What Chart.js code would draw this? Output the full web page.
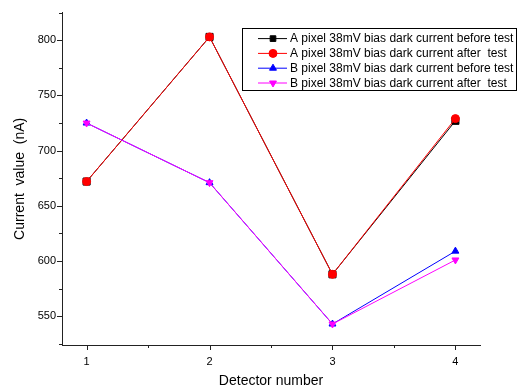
<!DOCTYPE html>
<html>
<head>
<meta charset="utf-8">
<script src="https://cdn.jsdelivr.net/npm/chart.js@4/dist/chart.umd.min.js"></script>
<style>
  body { margin: 0; background: #fff; }
  canvas { display: block; }
</style>
</head>
<body>
<canvas id="chart" width="520" height="392"></canvas>
<script>
const detectors = [1, 2, 3, 4];
const aBefore = [672, 803, 588, 727];
const aAfter = [672, 803, 588, 729];
const bBefore = [725, 671, 543, 609];
const bAfter = [725, 671, 543, 601];
const seriesNames = [
    'A pixel 38mV bias dark current before test',
    'A pixel 38mV bias dark current after  test',
    'B pixel 38mV bias dark current before test',
    'B pixel 38mV bias dark current after  test'
];
const xMajor = [1, 2, 3, 4];
const xMinor = [1.5, 2.5, 3.5];
const yMajor = [550, 600, 650, 700, 750, 800];
const yMinor = [525, 575, 625, 675, 725, 775, 825];

const FONT = 'Liberation Sans, Arial, sans-serif';

function pts(vals) {
    return detectors.map((d, i) => ({ x: d, y: vals[i] }));
}

// ticks de eixo (maiores e menores), estilo Origin
const axisTicks = {
    id: 'axisTicks',
    afterDraw(chart) {
        const ctx = chart.ctx;
        const xs = chart.scales.x, ys = chart.scales.y;
        const area = chart.chartArea;
        ctx.save();
        ctx.strokeStyle = '#222';
        ctx.lineWidth = 1;
        ctx.beginPath();
        xMajor.concat(xMinor).forEach(v => {
            const len = xMajor.includes(v) ? 5 : 3;
            const px = Math.round(xs.getPixelForValue(v)) + 0.5;
            ctx.moveTo(px, area.bottom);
            ctx.lineTo(px, area.bottom + len);
        });
        yMajor.concat(yMinor).forEach(v => {
            const len = yMajor.includes(v) ? 5 : 3;
            const py = Math.round(ys.getPixelForValue(v)) + 0.5;
            ctx.moveTo(area.left, py);
            ctx.lineTo(area.left - len, py);
        });
        ctx.stroke();
        ctx.restore();
    }
};

// legenda com caixa, linha + marcador
const boxLegend = {
    id: 'boxLegend',
    afterDraw(chart) {
        const ctx = chart.ctx;
        const area = chart.chartArea;
        const left = area.right - 238, top = area.top + 15;
        const w = 274, h = 62;
        ctx.save();
        ctx.fillStyle = '#fff';
        ctx.fillRect(left, top, w, h);
        ctx.strokeStyle = '#000';
        ctx.lineWidth = 1;
        ctx.strokeRect(Math.round(left) + 0.5, Math.round(top) + 0.5, w, h);
        ctx.font = '12px ' + FONT;
        ctx.textBaseline = 'middle';
        chart.data.datasets.forEach((ds, i) => {
            const y = top + 11 + i * 14.8;
            ctx.strokeStyle = ds.borderColor;
            ctx.beginPath();
            ctx.moveTo(left + 16, y);
            ctx.lineTo(left + 45, y);
            ctx.stroke();
            ctx.fillStyle = ds.pointBackgroundColor;
            ctx.strokeStyle = ds.pointBorderColor;
            Chart.helpers.drawPoint(ctx, {
                pointStyle: ds.pointStyle,
                rotation: ds.pointRotation || 0,
                radius: 4,
                borderWidth: 1
            }, left + 31, y);
            ctx.fillStyle = '#000';
            ctx.fillText(ds.label, left + 48, y + 0.5);
        });
        ctx.restore();
    }
};

const colors = ['#000000', '#ff0000', '#0000ff', '#ff00ff'];
const styles = ['rect', 'circle', 'triangle', 'triangle'];
const rotations = [0, 0, 0, 180];
const values = [aBefore, aAfter, bBefore, bAfter];
const orders = [4, 3, 2, 1];

new Chart(document.getElementById('chart').getContext('2d'), {
    type: 'line',
    data: {
        datasets: values.map((v, i) => ({
            label: seriesNames[i],
            data: pts(v),
            borderColor: colors[i],
            backgroundColor: colors[i],
            pointBackgroundColor: colors[i],
            pointBorderColor: colors[i],
            pointStyle: styles[i],
            pointRotation: rotations[i],
            pointRadius: i === 0 ? 5 : 4,
            borderWidth: 1,
            tension: 0,
            order: orders[i]
        }))
    },
    options: {
        responsive: false,
        animation: false,
        layout: { padding: { top: 8, right: 40, left: 0, bottom: 0 } },
        plugins: {
            legend: { display: false },
            tooltip: { enabled: false }
        },
        scales: {
            x: {
                type: 'linear',
                min: 0.8,
                max: 4.2,
                afterFit(s) { s.height = 47; },
                afterBuildTicks(s) { s.ticks = xMajor.map(v => ({ value: v })); },
                grid: { display: false, drawTicks: false, tickLength: 0 },
                border: { display: true, color: '#222', width: 1 },
                ticks: {
                    padding: 10,
                    color: '#000',
                    font: { family: FONT, size: 11 },
                    callback: v => String(v)
                },
                title: {
                    display: true,
                    text: 'Detector number',
                    color: '#000',
                    font: { family: FONT, size: 14 },
                    padding: { top: 0, bottom: 2.5 }
                }
            },
            y: {
                min: 524,
                max: 825,
                afterFit(s) { s.width = 62; },
                afterBuildTicks(s) { s.ticks = yMajor.map(v => ({ value: v })); },
                grid: { display: false, drawTicks: false, tickLength: 0 },
                border: { display: true, color: '#222', width: 1 },
                ticks: {
                    padding: 6,
                    color: '#000',
                    font: { family: FONT, size: 11 },
                    callback: v => String(v)
                },
                title: {
                    display: true,
                    text: 'Current  value  (nA)',
                    color: '#000',
                    font: { family: FONT, size: 14 },
                    padding: { top: 11.5, bottom: 0 }
                }
            }
        }
    },
    plugins: [axisTicks, boxLegend]
});
</script>
</body>
</html>
